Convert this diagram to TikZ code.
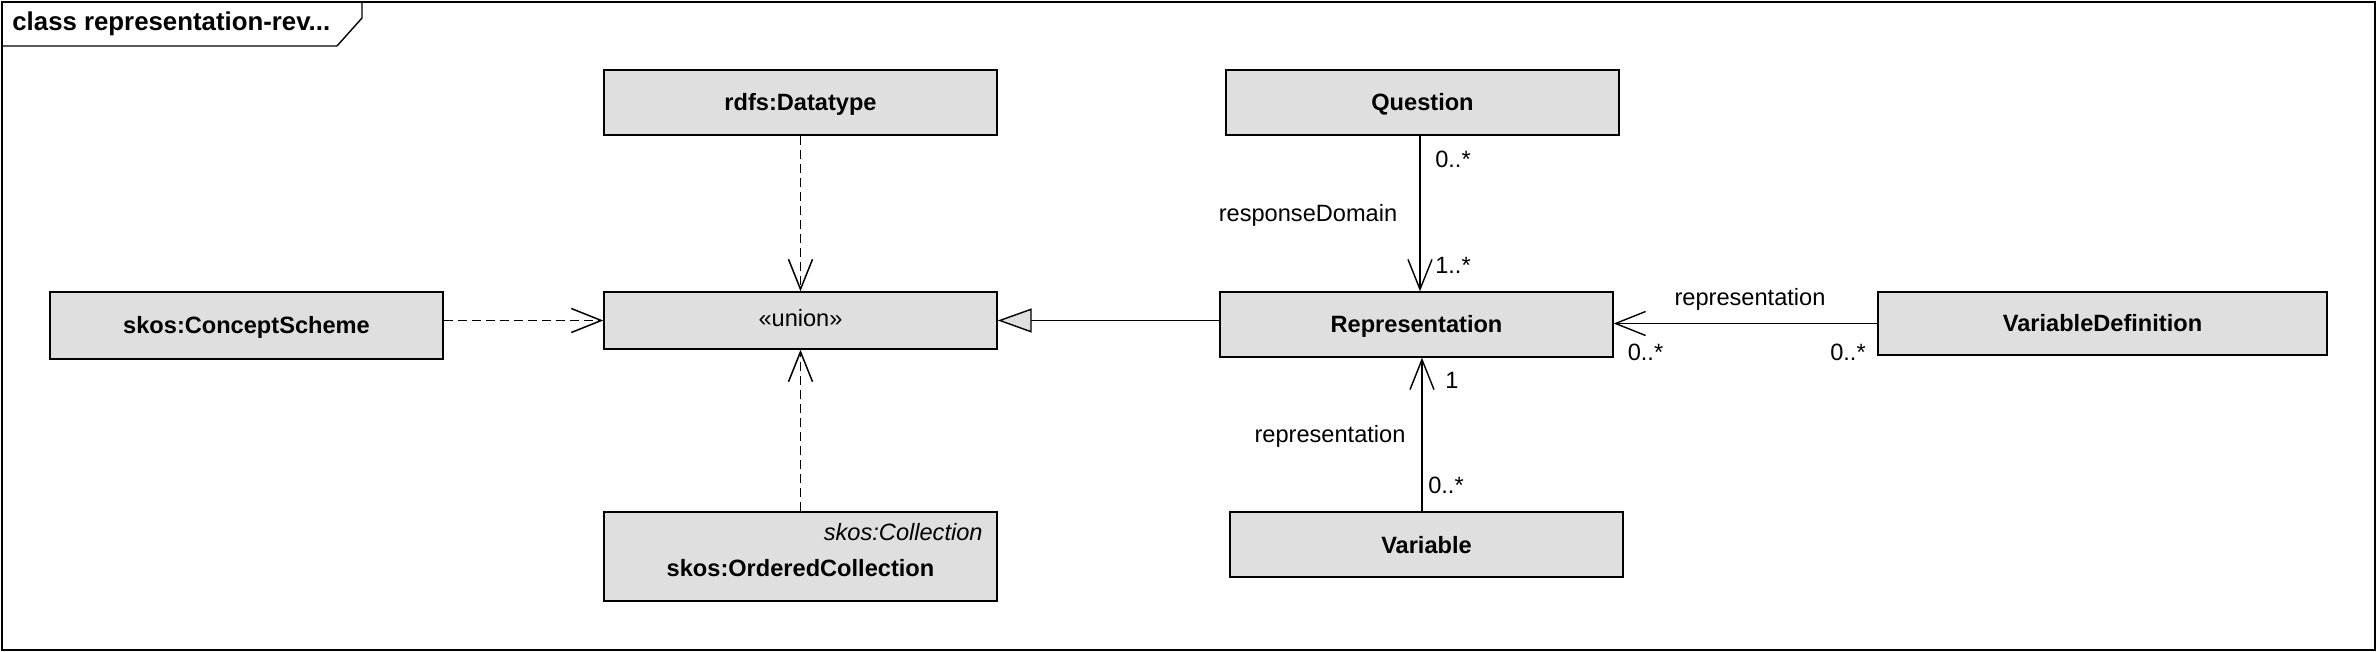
\documentclass[tikz,border=0pt]{standalone}
\usepackage{fontspec}
\setmainfont{Liberation Sans}
\usetikzlibrary{arrows.meta,calc}
\definecolor{boxgray}{RGB}{223,223,223}
\begin{document}
\begin{tikzpicture}[x=0.5pt,y=-0.5pt,
  cls/.style={draw=black, fill=boxgray, line width=0.7pt, inner sep=0pt, text height=8.5pt, text depth=0pt, font=\bfseries\fontsize{11.8}{14}\selectfont},
  lbl/.style={inner sep=0pt, font=\fontsize{11.8}{14}\selectfont},
  dep/.style={line width=0.75pt, dash pattern=on 4.5pt off 2.5pt, -{Straight Barb[length=15pt,width=12pt]}},
  assoc/.style={line width=0.7pt, -{Straight Barb[length=15pt,width=12pt]}},
  gen/.style={line width=0.7pt, -{Triangle[length=17pt,width=12pt,fill=boxgray]}}
]
\useasboundingbox (0,0) rectangle (2378,652);
% frame
\draw[line width=0.7pt] (2,2) rectangle (2375,650);
\draw[line width=0.7pt] (2,46) -- (337,46) -- (362,18) -- (362,2);
\node[anchor=west, inner sep=0pt, text height=9pt, text depth=0pt, font=\bfseries\fontsize{12.9}{15}\selectfont] (title) at (12,22) {class representation-rev...};
% classes
\node[cls, minimum width=196.5pt, minimum height=32.5pt] (dt) at (800.5,102.5) {rdfs:Datatype};
\node[cls, minimum width=196.5pt, minimum height=28.5pt, text height=6.5pt, font=\fontsize{11.8}{14}\selectfont] (un) at (800.5,320.5) {«union»};
\node[cls, minimum width=196.5pt, minimum height=33.5pt] (cs) at (246.5,325.5) {skos:ConceptScheme};
\node[cls, minimum width=196.5pt, minimum height=44.5pt] (oc) at (800.5,556.5) {};
\node[lbl, anchor=east, text height=8.5pt, text depth=0pt, font=\itshape\fontsize{11.8}{14}\selectfont] (ocst) at (983,532) {skos:Collection};
\node[lbl, text height=8.5pt, text depth=0pt, font=\bfseries\fontsize{11.8}{14}\selectfont] (ocname) at (800.5,568) {skos:OrderedCollection};
\node[cls, minimum width=196.5pt, minimum height=32.5pt] (q) at (1422.5,102.5) {Question};
\node[cls, minimum width=196.5pt, minimum height=32.5pt] (rep) at (1416.5,324.5) {Representation};
\node[cls, minimum width=224.5pt, minimum height=31.5pt] (vd) at (2102.5,323.5) {VariableDefinition};
\node[cls, minimum width=196.5pt, minimum height=32.5pt] (var) at (1426.5,544.5) {Variable};
% connectors
\draw[dep] (dt.south) -- (un.north);
\draw[dep] (oc.north) -- (un.south);
\draw[dep] (cs.east |- un.west) -- (un.west);
\draw[gen] (rep.west |- un.east) -- (un.east);
\coordinate (qa) at ($(q.south)+(-2.5,0)$);
\draw[assoc] (qa) -- (qa |- rep.north);
\draw[assoc] (vd.west) -- (rep.east |- vd.west);
\coordinate (va) at ($(var.north)+(-4.5,0)$);
\draw[assoc] (va) -- (va |- rep.south);
% labels
\node[lbl] (l1) at (1453,159) {0..*};
\node[lbl] (l2) at (1308,215.4) {responseDomain};
\node[lbl] (l3) at (1453,265) {1..*};
\node[lbl] (l4) at (1750,299.4) {representation};
\node[lbl] (l5) at (1645.5,352) {0..*};
\node[lbl] (l6) at (1848,352) {0..*};
\node[lbl] (l7) at (1452,380) {1};
\node[lbl] (l8) at (1330,436.6) {representation};
\node[lbl] (l9) at (1446,485.7) {0..*};
\end{tikzpicture}
\end{document}
